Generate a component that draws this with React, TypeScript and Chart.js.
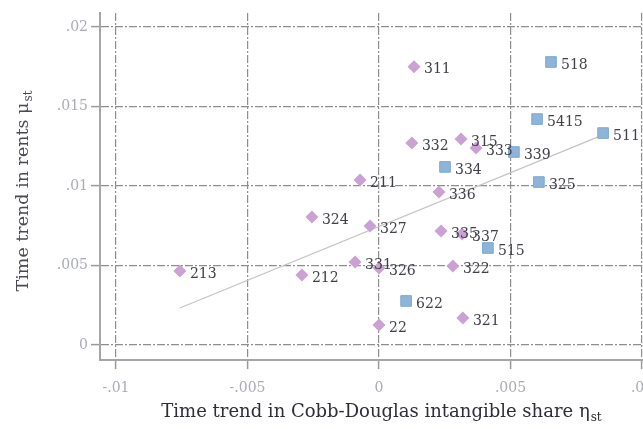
import React, { useEffect, useRef } from 'react';
import { Chart, registerables } from 'chart.js';
Chart.register(...registerables);

const purpleLabels = ['213', '212', '324', '211', '327', '331', '326', '22', '311', '332', '315', '333', '336', '335', '337', '322', '321'];
const purpleX = [-0.00757, -0.00293, -0.00255, -0.00072, -0.00034, -0.00091, 0.0, 0.0, 0.00133, 0.00125, 0.00312, 0.00369, 0.00228, 0.00236, 0.00316, 0.00281, 0.00319];
const purpleY = [0.00465, 0.0044, 0.00805, 0.01038, 0.00748, 0.00522, 0.00484, 0.00126, 0.0175, 0.0127, 0.01296, 0.01239, 0.00962, 0.00717, 0.00698, 0.00497, 0.0017];

const blueLabels = ['518', '5415', '511', '339', '334', '325', '515', '622'];
const blueX = [0.00654, 0.00601, 0.00852, 0.00513, 0.00251, 0.00608, 0.00414, 0.00103];
const blueY = [0.0178, 0.01421, 0.01333, 0.01214, 0.0112, 0.01025, 0.0061, 0.00277];

const fitX = [-0.00757, 0.0084];
const fitY = [0.00233, 0.01314];

const xTickValues = [-0.01, -0.005, 0, 0.005, 0.01];
const xTickLabels = ['-.01', '-.005', '0', '.005', '.01'];
const yTickValues = [0, 0.005, 0.01, 0.015, 0.02];
const yTickLabels = ['0', '.005', '.01', '.015', '.02'];

const xTitle = 'Time trend in Cobb-Douglas intangible share η';
const yTitle = 'Time trend in rents μ';
const titleSub = 'st';

const SERIF = "'DejaVu Serif', serif";

function zip(xs: number[], ys: number[]) {
  return xs.map((x, i) => ({ x, y: ys[i] }));
}

const labelPlugin = {
  id: 'pointLabels',
  afterDatasetsDraw(chart: any) {
    const ctx = chart.ctx;
    ctx.save();
    ctx.font = `14px ${SERIF}`;
    ctx.fillStyle = '#404048';
    ctx.textAlign = 'left';
    ctx.textBaseline = 'middle';
    const sets: [number, string[]][] = [[0, purpleLabels], [1, blueLabels]];
    for (const [idx, labels] of sets) {
      const meta = chart.getDatasetMeta(idx);
      meta.data.forEach((el: any, i: number) => {
        ctx.fillText(labels[i], el.x + 10, el.y + 3);
      });
    }
    ctx.restore();
  },
  afterDraw(chart: any) {
    const ctx = chart.ctx;
    const area = chart.chartArea;
    ctx.save();
    // x title
    ctx.fillStyle = '#2e2e36';
    ctx.textBaseline = 'alphabetic';
    ctx.textAlign = 'left';
    ctx.font = `18px ${SERIF}`;
    const mainW = ctx.measureText(xTitle).width;
    ctx.font = `12px ${SERIF}`;
    const subW = ctx.measureText(titleSub).width;
    const cx = 381;
    const x0 = cx - (mainW + subW) / 2;
    ctx.font = `18px ${SERIF}`;
    ctx.fillText(xTitle, x0, 417);
    ctx.font = `12px ${SERIF}`;
    ctx.fillText(titleSub, x0 + mainW + 1, 421);
    // y title
    ctx.translate(28, (area.top + area.bottom) / 2 + 5);
    ctx.rotate(-Math.PI / 2);
    ctx.fillStyle = '#4a4a54';
    ctx.font = `17.5px ${SERIF}`;
    const mW = ctx.measureText(yTitle).width;
    ctx.font = `12px ${SERIF}`;
    const sW = ctx.measureText(titleSub).width;
    const y0 = -(mW + sW) / 2;
    ctx.font = `17.5px ${SERIF}`;
    ctx.fillText(yTitle, y0, 0);
    ctx.font = `12px ${SERIF}`;
    ctx.fillText(titleSub, y0 + mW + 1, 4);
    ctx.restore();
  },
};

export default function App() {
  const ref = useRef<HTMLCanvasElement | null>(null);
  useEffect(() => {
    document.body.style.margin = '0';
    const canvas = ref.current;
    if (!canvas) return;
    const gridCommon = {
      color: '#8e8e8e',
      lineWidth: 1.2,
      tickLength: 9,
      tickColor: '#9a9a9a',
      tickWidth: 1.5,
      tickBorderDash: [],
    };
    const chart = new Chart(canvas, {
      type: 'scatter',
      data: {
        datasets: [
          {
            label: 'purple',
            data: zip(purpleX, purpleY),
            pointStyle: 'rectRot',
            pointRadius: 6.5,
            backgroundColor: '#c9a2d3',
            borderColor: '#c9a2d3',
            borderWidth: 0,
          },
          {
            label: 'blue',
            data: zip(blueX, blueY),
            pointStyle: 'rect',
            pointRadius: 7.5,
            backgroundColor: '#8db5da',
            borderColor: '#7ea7cf',
            borderWidth: 1,
          },
          {
            label: 'fit',
            data: zip(fitX, fitY),
            showLine: true,
            pointRadius: 0,
            borderColor: '#c4c4c4',
            borderWidth: 1.2,
            fill: false,
          },
        ],
      },
      options: {
        animation: false,
        responsive: true,
        maintainAspectRatio: false,
        layout: { padding: { top: 13, right: 20, left: 0, bottom: 0 } },
        plugins: { legend: { display: false }, tooltip: { enabled: false } },
        scales: {
          x: {
            type: 'linear',
            min: -0.010608,
            max: 0.010684,
            afterBuildTicks: (scale: any) => {
              scale.ticks = xTickValues.map((v) => ({ value: v }));
            },
            afterFit: (scale: any) => {
              scale.height = 69;
            },
            ticks: {
              autoSkip: false,
              maxRotation: 0,
              padding: 11,
              color: '#a9abb5',
              font: { family: SERIF, size: 14 },
              callback: (v: any) => {
                const i = xTickValues.findIndex((t) => Math.abs(t - v) < 1e-9);
                return i >= 0 ? xTickLabels[i] : '';
              },
            },
            grid: gridCommon,
            border: { display: true, color: '#a6a6a6', width: 2, dash: [8, 2, 2, 2] },
          },
          y: {
            type: 'linear',
            min: -0.000943,
            max: 0.020881,
            afterBuildTicks: (scale: any) => {
              scale.ticks = yTickValues.map((v) => ({ value: v }));
            },
            afterFit: (scale: any) => {
              scale.width = 100;
            },
            ticks: {
              autoSkip: false,
              padding: 3,
              color: '#a9abb5',
              font: { family: SERIF, size: 14 },
              callback: (v: any) => {
                const i = yTickValues.findIndex((t) => Math.abs(t - v) < 1e-9);
                return i >= 0 ? yTickLabels[i] : '';
              },
            },
            grid: gridCommon,
            border: { display: true, color: '#a6a6a6', width: 2, dash: [8, 2, 2, 2] },
          },
        },
      },
      plugins: [labelPlugin],
    } as any);
    return () => chart.destroy();
  }, []);
  return (
    <div style={{ position: 'absolute', left: 0, top: 0, width: 643, height: 429, overflow: 'hidden', background: '#fff' }}>
      <div style={{ position: 'relative', width: 680, height: 429 }}>
        <canvas ref={ref} />
      </div>
    </div>
  );
}
